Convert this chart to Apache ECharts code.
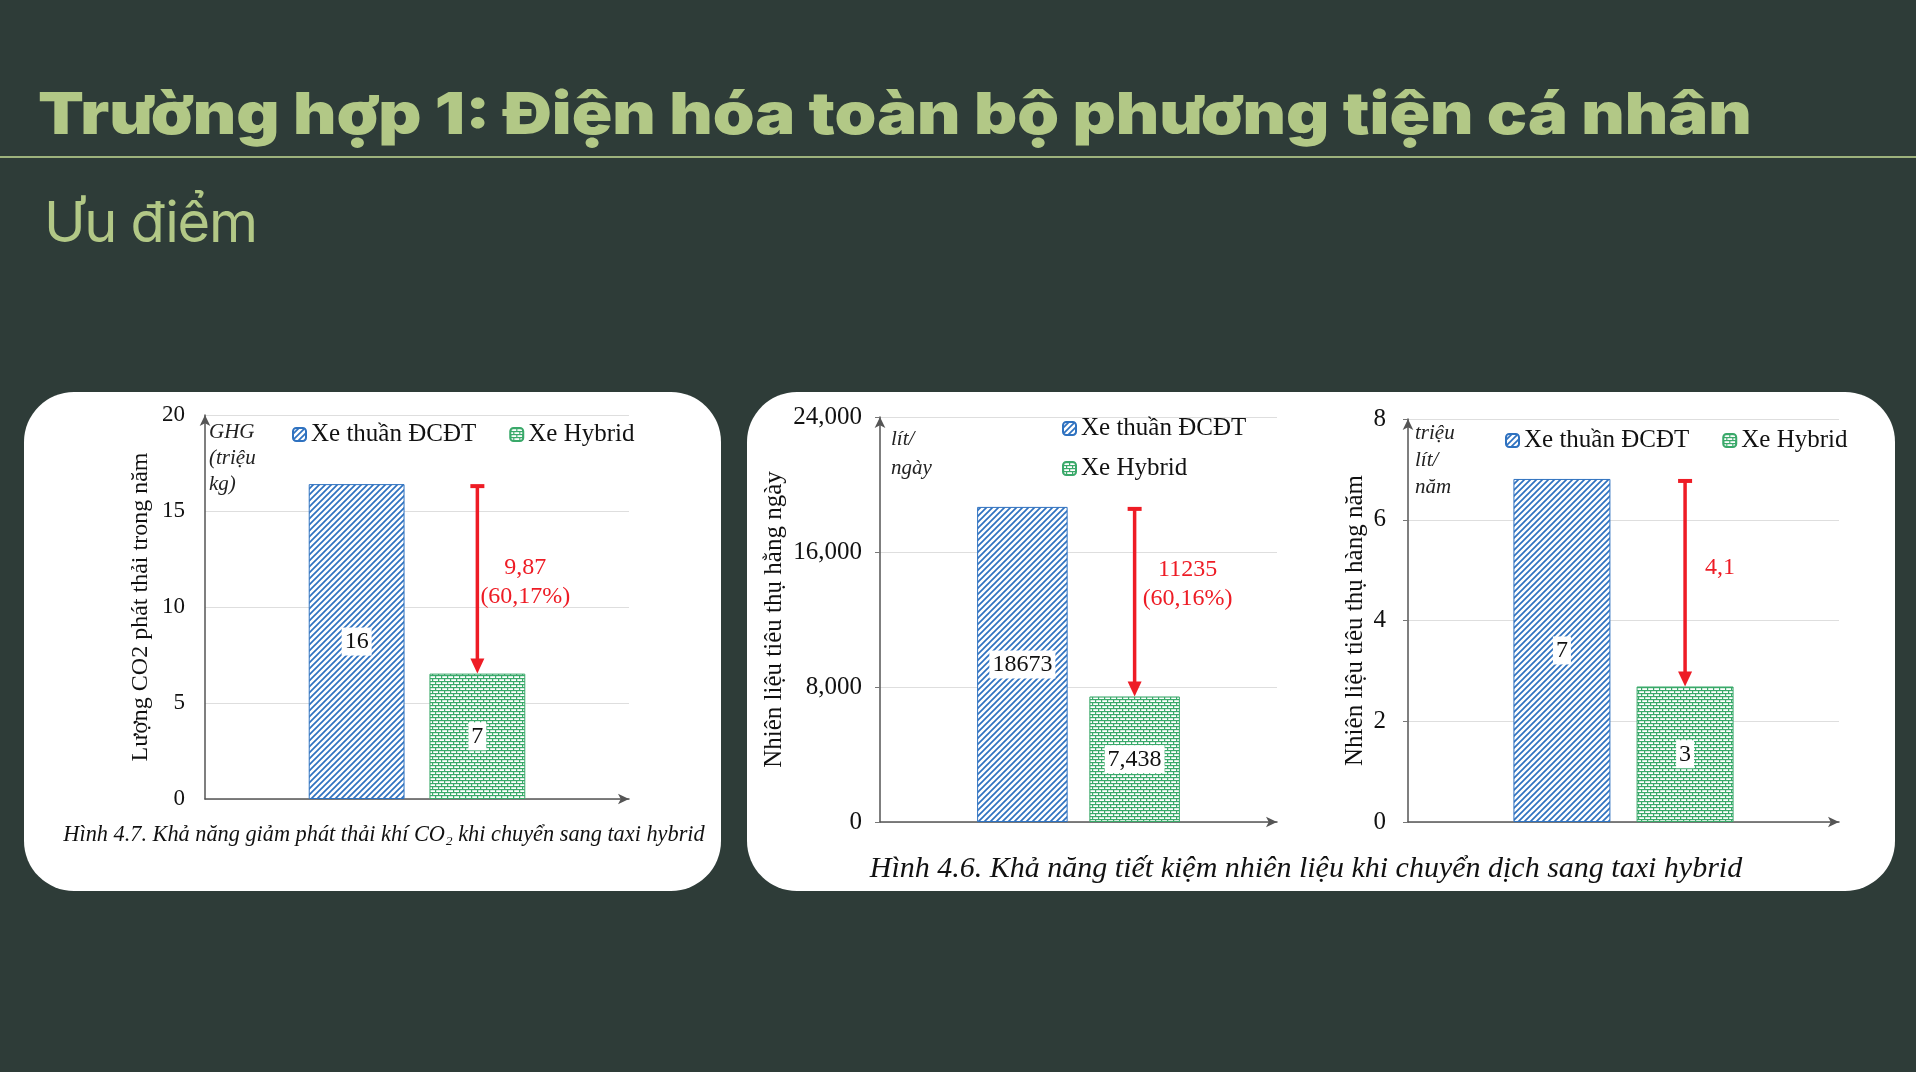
<!DOCTYPE html>
<html>
<head>
<meta charset="utf-8">
<script src="https://cdn.jsdelivr.net/npm/echarts@6/dist/echarts.min.js"></script>
<style>
  html, body { margin: 0; padding: 0; background: #2e3c38; width: 1916px; height: 1072px; overflow: hidden; }
  .title { position: absolute; left: 38px; top: 84px; font-family: Inter, "Noto Sans", sans-serif; font-weight: 900;
           font-size: 58px; line-height: 58px; color: #b2c886; letter-spacing: 0; white-space: nowrap;
           transform: scaleX(1.155); transform-origin: 0 0; }
  .rule { position: absolute; left: 0; top: 156px; width: 1916px; height: 2px; background: #9db27c; }
  .sub { position: absolute; left: 44px; top: 190px; font-family: Inter, "Noto Sans", sans-serif; font-weight: 400;
         font-size: 56px; line-height: 64px; color: #b2c886; letter-spacing: -1.3px; white-space: nowrap; }
  .card { position: absolute; background: #fff; border-radius: 50px; }
  #chart { position: absolute; left: 0; top: 0; width: 1916px; height: 1072px; }
</style>
</head>
<body>
<div class="title">Trường hợp 1: Điện hóa toàn bộ phương tiện cá nhân</div>
<div class="rule"></div>
<div class="sub">Ưu điểm</div>
<div class="card" style="left:24px;top:392px;width:697px;height:499px;"></div>
<div class="card" style="left:747px;top:392px;width:1148px;height:499px;"></div>
<div id="chart"></div>
<script>
// tên chuỗi
var seriesNames = ['Xe thuần ĐCĐT', 'Xe Hybrid'];

// Hình 4.7 - CO2 (triệu kg)
var co2Values = [16.4, 6.53];
var co2Labels = ['16', '7'];
var co2Anno = '9,87\n(60,17%)';

// Hình 4.6 - nhiên liệu hằng ngày (lít/ngày)
var dailyValues = [18673, 7438];
var dailyLabels = ['18673', '7,438'];
var dailyAnno = '11235\n(60,16%)';

// Hình 4.6 - nhiên liệu hàng năm (triệu lít/năm)
var yearlyValues = [6.81, 2.69];
var yearlyLabels = ['7', '3'];
var yearlyAnno = '4,1';

var serif = '"Liberation Serif", "DejaVu Serif", serif';
var blue = '#2f72c0';
var green = '#3aa96a';
var red = '#ee1c25';

// hoa văn cột
function hatchPattern(color) {
    var s = 6;
    var c = document.createElement('canvas');
    c.width = s; c.height = s;
    var ctx = c.getContext('2d');
    ctx.fillStyle = '#fff';
    ctx.fillRect(0, 0, s, s);
    ctx.strokeStyle = color;
    ctx.lineWidth = 1.7;
    ctx.beginPath();
    ctx.moveTo(-1, s + 1); ctx.lineTo(s + 1, -1);
    ctx.moveTo(-1, 1); ctx.lineTo(1, -1);
    ctx.moveTo(s - 1, s + 1); ctx.lineTo(s + 1, s - 1);
    ctx.stroke();
    return c;
}
function brickPattern(color) {
    var s = 6;
    var c = document.createElement('canvas');
    c.width = s; c.height = s;
    var ctx = c.getContext('2d');
    ctx.fillStyle = '#fff';
    ctx.fillRect(0, 0, s, s);
    ctx.fillStyle = color;
    ctx.fillRect(0, 0, s, 1.2);
    ctx.fillRect(0, 3, s, 1.2);
    ctx.fillRect(0, 0, 1.2, 3);
    ctx.fillRect(3, 3, 1.2, 3);
    return c;
}
var blueFill = { image: hatchPattern(blue), repeat: 'repeat' };
var greenFill = { image: brickPattern(green), repeat: 'repeat' };

var myChart = echarts.init(document.getElementById('chart'));

var grids = [
    { left: 205, top: 415, width: 424, height: 384 },
    { left: 880, top: 417, width: 397, height: 405 },
    { left: 1408, top: 419, width: 431, height: 403 }
];
var barWidthPct = [22.6, 22.8, 22.5];
var barGapPct = [26, 24, 27];
var yMax = [20, 24000, 8];
var yStep = [5, 8000, 2];
var yNames = ['Lượng CO2 phát thải trong năm', 'Nhiên liệu tiêu thụ hằng ngày', 'Nhiên liệu tiêu thụ hàng năm'];
var yNameGap = [52, 93, 40];
var yNameSize = [24, 25, 25];
var yLabelSize = [23, 25, 25];
var yLabelMargin = [20, 18, 22];
var values = [co2Values, dailyValues, yearlyValues];
var labels = [co2Labels, dailyLabels, yearlyLabels];
var annos = [co2Anno, dailyAnno, yearlyAnno];
var annoDx = [48, 53, 35];
var annoDy = [2, -18, -16];

var xAxes = [], yAxes = [], series = [];
for (var g = 0; g < 3; g++) {
    xAxes.push({
        type: 'category', gridIndex: g, data: [''],
        axisLine: { lineStyle: { color: '#555', width: 1.5 }, symbol: ['none', 'arrow'], symbolSize: [8, 11] },
        axisTick: { show: false }, axisLabel: { show: false }
    });
    yAxes.push({
        type: 'value', gridIndex: g, min: 0, max: yMax[g], interval: yStep[g],
        name: yNames[g], nameLocation: 'middle', nameGap: yNameGap[g], nameRotate: 90,
        nameTextStyle: { fontFamily: serif, fontSize: yNameSize[g], color: '#111' },
        axisLine: { show: true, lineStyle: { color: '#555', width: 1.5 }, symbol: ['none', 'arrow'], symbolSize: [8, 11] },
        axisTick: { show: g > 0, length: 5, lineStyle: { color: '#777' } },
        axisLabel: { fontFamily: serif, fontSize: yLabelSize[g], color: '#111', margin: yLabelMargin[g] },
        splitLine: { lineStyle: { color: '#dedede', width: 1.2 } }
    });
    (function (g) {
        for (var s = 0; s < 2; s++) {
            series.push({
                name: seriesNames[s], type: 'bar', xAxisIndex: g, yAxisIndex: g,
                data: [values[g][s]],
                barWidth: barWidthPct[g] + '%', barGap: barGapPct[g] + '%',
                itemStyle: { color: s === 0 ? blueFill : greenFill, borderColor: s === 0 ? blue : green, borderWidth: 1 },
                label: {
                    show: true, position: 'inside', fontFamily: serif, fontSize: 24, color: '#111',
                    backgroundColor: '#fff', padding: [3, 3, 1, 3],
                    formatter: (function (txt) { return function () { return txt; }; })(labels[g][s])
                },
                emphasis: { disabled: true }
            });
        }
        // mũi tên chênh lệch
        series.push({
            type: 'custom', xAxisIndex: g, yAxisIndex: g, clip: false, z: 10,
            data: [[0, values[g][0], values[g][1]]],
            renderItem: function (params, api) {
                var top = api.coord([api.value(0), api.value(1)]);
                var tip = api.coord([api.value(0), api.value(2)]);
                var band = api.size([1, 0])[0];
                var bw = band * barWidthPct[g] / 100;
                var x = top[0] + bw * (1 + barGapPct[g] / 100) / 2;
                var y0 = top[1] + 2, y1 = tip[1];
                return {
                    type: 'group',
                    children: [
                        { type: 'rect', shape: { x: x - 7, y: y0 - 2, width: 14, height: 4 }, style: { fill: red } },
                        { type: 'line', shape: { x1: x, y1: y0, x2: x, y2: y1 - 12 }, style: { stroke: red, lineWidth: 3.5 } },
                        { type: 'polygon', shape: { points: [[x - 7, y1 - 15], [x + 7, y1 - 15], [x, y1]] }, style: { fill: red } },
                        {
                            type: 'text', x: x + annoDx[g], y: (y0 + y1) / 2 + annoDy[g],
                            style: { text: annos[g], fill: red, font: '24px ' + serif, align: 'center', verticalAlign: 'middle', lineHeight: 29 }
                        }
                    ]
                };
            }
        });
    })(g);
}

var legendText = { fontFamily: serif, fontSize: 25, color: '#111' };
var option = {
    animation: false,
    grid: grids,
    xAxis: xAxes,
    yAxis: yAxes,
    legend: [
        { data: seriesNames, left: 292, top: 422, padding: 0, itemGap: 33, itemWidth: 13, itemHeight: 13, textStyle: legendText, selectedMode: false },
        { data: seriesNames, orient: 'vertical', left: 1062, top: 416, padding: 0, itemGap: 15, itemWidth: 13, itemHeight: 13, textStyle: legendText, selectedMode: false },
        { data: seriesNames, left: 1505, top: 428, padding: 0, itemGap: 33, itemWidth: 13, itemHeight: 13, textStyle: legendText, selectedMode: false }
    ],
    graphic: [
        { type: 'text', left: 209, top: 419, style: { text: 'GHG\n(triệu\nkg)', font: 'italic 21px ' + serif, fill: '#222', lineHeight: 26 } },
        { type: 'text', left: 891, top: 425, style: { text: 'lít/\nngày', font: 'italic 21px ' + serif, fill: '#222', lineHeight: 29 } },
        { type: 'text', left: 1415, top: 420, style: { text: 'triệu\nlít/\nnăm', font: 'italic 21px ' + serif, fill: '#222', lineHeight: 27 } },
        { type: 'text', x: 384, y: 835, style: { text: 'Hình 4.7. Khả năng giảm phát thải khí CO₂ khi chuyển sang taxi hybrid', font: 'italic 22.3px ' + serif, fill: '#111', align: 'center', verticalAlign: 'middle' } },
        { type: 'text', x: 1306, y: 869, style: { text: 'Hình 4.6. Khả năng tiết kiệm nhiên liệu khi chuyển dịch sang taxi hybrid', font: 'italic 30px ' + serif, fill: '#111', align: 'center', verticalAlign: 'middle' } }
    ],
    series: series
};
myChart.setOption(option);
window.onresize = function () { myChart.resize(); };
</script>
</body>
</html>
